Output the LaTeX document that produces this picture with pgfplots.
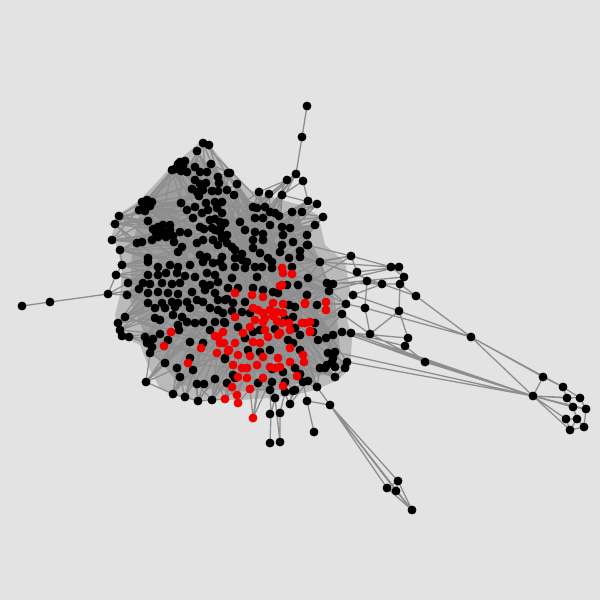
\documentclass[border=0pt]{standalone}
\usepackage{pgfplots}
\pgfplotsset{compat=1.18}
\definecolor{bg}{RGB}{227,227,227}
\definecolor{edgecol}{RGB}{142,142,142}
\definecolor{outercol}{RGB}{186,186,186}
\definecolor{corecol}{RGB}{158,158,158}
\definecolor{nodered}{RGB}{240,0,0}
\begin{document}
\begin{tikzpicture}
\begin{axis}[scale only axis, width=300pt, height=300pt,
  xmin=0, xmax=600, ymin=0, ymax=600, y dir=reverse,
  axis lines=none, xtick=\empty, ytick=\empty,
  axis background/.style={fill=bg}, clip=true]
% dense core of edges
\addplot[fill=outercol, draw=none] coordinates {
(140,200) (170,168) (200,142) (212,148) (232,172) (250,190) (275,198) (300,205)
(318,215) (325,245) (345,262) (350,290) (345,310) (352,340) (350,368) (338,380)
(315,390) (295,395) (270,398) (240,400) (210,400) (182,398) (160,388) (150,370)
(140,345) (120,335) (115,315) (120,295) (122,270) (118,250) (112,235) (118,215)} -- cycle;
\addplot[fill=corecol, draw=none] coordinates {
(140,210) (165,180) (195,158) (215,165) (235,195) (300,220) (320,260) (335,300)
(340,350) (322,375) (280,390) (230,392) (180,385) (152,352) (130,300) (132,250)} -- cycle;
% long crossing edges in the core
\addplot[edgecol, line width=0.65pt] table {
x y
145 211
320 262
203 143
300 374
152 202
335 352
180 162
290 330
142 202
345 368
197 151
308 381
139 210
326 338
209 145
283 386
150 206
317 387
172 170
333 335
147 200
270 390
185 161
313 332
144 206
327 365
195 167
300 350
119 216
320 368
211 164
295 368
115 224
258 383
178 164
335 377
153 229
303 382
183 166
318 340
};
\addplot[edgecol, line width=0.65pt] table {
x y
122 265
315 225
120 330
296 174
146 382
308 201
118 323
230 173
165 363
317 204
125 317
287 180
173 394
323 217
112 240
302 212
185 397
259 192
128 283
342 314
150 353
307 245
198 401
269 194
139 289
351 256
177 368
282 195
148 343
320 262
212 400
237 184
120 250
329 291
193 370
253 207
145 337
331 284
215 379
275 213
127 295
346 304
227 383
218 177
};
\addplot[edgecol, line width=0.65pt] table {
x y
200 227
263 290
170 265
245 338
212 228
290 228
180 283
225 358
253 248
162 303
275 329
222 257
190 308
282 245
158 267
260 352
207 273
300 257
168 293
233 375
242 260
210 330
307 295
177 273
248 350
215 293
270 212
187 322
285 319
163 232
253 332
220 262
295 307
155 318
272 369
203 262
238 327
180 232
293 343
166 273
227 299
263 240
195 323
300 335
148 293
242 312
255 218
190 342
245 302
172 284
315 323
};
\addplot[edgecol, line width=0.65pt] table {
x y
142 202
228 173
147 200
222 213
152 202
227 190
145 211
218 191
139 210
240 222
150 206
253 207
144 206
206 203
119 216
187 210
115 224
170 225
148 221
220 222
153 229
200 184
158 237
172 170
112 240
182 247
137 243
203 240
142 242
234 195
120 250
213 240
148 258
227 235
};
\addplot[edgecol, line width=0.65pt] table {
x y
235 293
305 323
223 332
326 302
229 350
283 304
238 377
310 331
250 389
273 303
225 399
302 323
242 368
305 304
253 418
282 268
247 378
292 274
237 395
280 286
263 378
326 310
171 332
304 362
164 346
297 376
188 363
290 348
201 348
278 358
};
\addplot[edgecol, line width=0.65pt] table {
x y
118 323
317 204
146 382
323 217
173 394
302 212
212 400
282 195
270 390
259 192
317 387
237 184
345 368
228 173
347 362
211 164
333 335
180 162
346 304
142 202
329 291
119 216
320 262
112 240
307 245
120 250
308 278
122 265
315 323
116 275
318 340
127 295
335 377
125 317
303 382
145 337
308 201
150 353
296 174
};
\addplot[edgecol, line width=0.65pt] table {
x y
142 202
158 227
119 216
153 229
115 224
148 221
112 240
152 240
120 250
148 258
122 265
158 267
116 275
148 275
128 283
150 284
127 295
148 293
125 317
155 308
118 323
155 318
120 330
160 334
122 336
153 339
129 337
147 343
145 337
150 353
165 363
146 382
177 368
173 394
180 377
185 397
193 370
198 401
197 384
212 400
215 379
225 399
227 383
238 403
250 389
270 390
258 383
285 382
295 390
303 382
317 387
320 368
335 377
345 368
327 365
347 362
333 358
335 352
328 353
333 335
313 332
340 332
318 340
342 314
315 323
346 304
317 305
329 291
307 295
333 284
308 278
327 283
320 262
300 257
307 245
293 242
307 235
283 235
315 225
290 228
323 217
292 212
317 204
302 212
308 201
279 216
282 195
270 212
269 194
265 207
259 192
253 207
237 184
240 222
234 195
222 202
230 173
219 183
228 173
211 164
206 183
203 143
195 167
197 151
187 172
180 162
181 203
172 170
152 202
};
% individual edges
\addplot[edgecol, line width=0.65pt, unbounded coords=jump] table {
x y
307 106
302 137
296 174
287 180
nan nan
296 174
303 181
282 195
nan nan
287 180
269 194
nan nan
296 174
275 213
nan nan
287 180
259 192
nan nan
303 181
308 201
nan nan
282 195
317 204
nan nan
22 306
50 302
108 294
116 275
122 265
148 262
nan nan
108 294
128 283
nan nan
108 294
127 295
nan nan
108 294
139 289
nan nan
142 202
181 203
nan nan
147 200
180 162
nan nan
152 202
178 164
nan nan
144 206
172 170
nan nan
145 211
187 210
nan nan
139 210
181 171
nan nan
119 216
142 202
nan nan
115 224
144 206
nan nan
119 216
148 221
nan nan
115 224
137 243
nan nan
112 240
142 242
nan nan
120 250
148 258
nan nan
120 250
122 265
nan nan
307 245
351 256
391 267
404 277
399 267
357 272
351 256
nan nan
357 272
367 281
382 284
400 284
416 296
nan nan
404 277
400 284
nan nan
367 281
365 308
370 334
399 311
408 338
405 346
425 362
370 334
nan nan
382 284
353 295
399 311
400 284
nan nan
346 304
365 308
nan nan
320 262
391 267
nan nan
320 262
351 256
nan nan
327 283
399 267
nan nan
327 283
382 284
nan nan
331 284
404 277
nan nan
342 314
370 334
nan nan
342 332
425 362
nan nan
350 333
408 338
nan nan
351 333
405 346
nan nan
320 262
416 296
nan nan
329 291
367 281
nan nan
416 296
471 337
399 311
nan nan
471 337
365 308
nan nan
471 337
543 377
nan nan
471 337
563 387
nan nan
471 337
533 396
nan nan
533 396
340 332
nan nan
533 396
335 352
nan nan
533 396
350 333
nan nan
533 396
347 362
nan nan
533 396
425 362
nan nan
533 396
543 377
563 387
567 398
573 407
586 409
580 398
563 387
nan nan
533 396
567 398
nan nan
533 396
580 398
nan nan
533 396
573 407
nan nan
533 396
566 419
577 419
584 427
570 430
566 419
nan nan
533 396
570 430
nan nan
533 396
586 409
584 427
nan nan
573 407
577 419
570 430
nan nan
330 405
398 481
387 488
396 491
412 510
398 481
396 491
nan nan
387 488
412 510
330 405
387 488
nan nan
330 405
396 491
nan nan
330 405
317 387
nan nan
307 401
314 432
nan nan
303 382
307 401
nan nan
270 443
271 414
270 390
nan nan
280 442
280 413
285 392
289 404
293 391
nan nan
280 442
275 398
271 414
nan nan
275 398
272 382
nan nan
289 404
295 390
nan nan
253 418
250 389
nan nan
253 418
258 383
nan nan
150 353
146 382
165 363
nan nan
146 382
173 394
185 397
198 401
212 400
225 399
nan nan
173 394
177 368
nan nan
185 397
193 370
nan nan
198 401
215 379
nan nan
212 400
227 383
nan nan
225 399
233 375
nan nan
307 401
330 405
nan nan
290 404
308 381
nan nan
};
% black nodes
\addplot[only marks, mark=*, mark size=2pt, mark options={draw=black, fill=black}] table {
x y
203 143
209 145
197 151
211 164
195 167
180 162
185 161
178 164
183 166
172 170
175 169
181 171
200 172
207 172
187 172
228 173
218 177
219 183
195 180
200 184
192 189
197 192
203 190
206 183
212 191
218 191
227 190
199 196
181 203
206 203
215 202
217 208
208 210
142 202
147 200
152 202
150 206
144 206
139 210
145 211
187 210
195 207
202 213
193 218
119 216
115 224
148 221
210 220
215 219
220 222
153 229
158 227
163 225
170 225
156 233
163 232
170 230
180 232
200 227
204 229
212 228
215 230
221 227
152 240
158 237
166 237
173 236
174 242
188 233
197 243
203 240
213 240
222 238
218 245
112 240
137 243
142 242
120 250
182 247
178 252
148 258
200 255
207 257
230 173
237 184
234 195
296 174
287 180
303 181
259 192
269 194
282 195
253 207
257 208
265 207
270 212
275 213
279 216
292 212
302 212
308 201
317 204
323 217
315 225
222 202
222 213
225 223
240 222
245 230
255 218
263 218
270 225
282 227
290 228
220 232
227 235
255 232
263 234
253 240
263 240
283 235
307 235
227 243
282 245
293 242
308 245
232 247
235 250
253 248
260 253
242 254
280 252
289 258
300 251
300 257
222 257
235 258
242 260
247 262
268 258
272 262
320 262
223 267
235 267
245 268
255 267
262 267
272 268
292 267
308 278
232 278
257 277
327 283
333 284
122 265
116 275
128 283
108 294
127 295
139 289
148 262
158 267
170 265
178 267
190 265
203 262
213 263
220 262
148 275
158 275
166 273
177 273
185 276
195 277
207 273
215 275
143 283
150 284
162 283
172 284
180 283
203 284
210 285
218 282
148 293
158 292
168 293
178 294
192 292
205 290
215 293
148 303
162 303
172 302
178 303
187 302
197 300
203 302
218 300
227 299
155 308
165 308
175 307
190 308
210 308
218 310
125 317
155 318
160 320
173 315
182 317
187 322
195 323
203 322
215 322
224 322
118 323
120 330
122 336
129 337
160 334
178 325
179 330
168 340
145 337
153 339
147 343
152 347
150 353
190 342
203 343
210 330
190 358
225 359
165 363
177 368
193 370
180 377
215 379
146 382
197 384
204 384
173 394
185 397
198 401
212 400
228 288
238 288
253 288
263 290
273 292
287 285
298 285
307 295
317 305
225 300
233 303
245 302
278 293
289 305
295 307
223 313
232 311
242 312
250 313
285 319
293 317
225 323
238 327
315 323
253 332
260 330
275 329
295 328
300 335
288 340
293 343
245 338
313 332
318 340
326 338
333 335
248 350
260 352
270 350
300 350
225 358
328 353
335 352
333 358
332 362
327 365
325 368
335 367
347 362
295 368
300 374
320 368
335 377
345 368
233 375
272 369
283 372
227 383
235 378
258 383
270 390
272 382
285 382
295 390
303 382
308 381
317 387
275 398
290 404
307 401
330 405
270 414
280 413
314 432
270 443
280 442
285 392
293 391
307 245
351 256
357 272
391 267
399 267
404 277
367 281
382 284
400 284
416 296
329 291
353 295
346 304
365 308
399 311
342 314
370 334
342 332
351 333
408 338
405 346
425 362
471 337
543 377
533 396
563 387
567 398
580 398
573 407
586 409
566 419
577 419
570 430
584 427
307 106
302 137
22 306
50 302
398 481
387 488
396 491
412 510
};
% red nodes
\addplot[only marks, mark=*, mark size=2pt, mark options={draw=nodered, fill=nodered}] table {
x y
282 268
283 273
292 274
280 286
171 332
164 346
215 336
218 337
223 332
220 343
224 343
201 348
217 353
228 351
188 363
225 399
235 293
282 285
252 295
263 297
326 302
326 310
273 303
283 304
305 304
253 308
258 310
270 310
277 312
283 313
263 313
235 317
255 320
265 318
273 316
277 321
302 323
250 327
263 322
282 323
289 323
310 322
243 333
265 330
280 333
290 330
310 332
235 343
253 342
260 343
268 337
278 335
229 350
290 348
238 355
250 356
263 357
278 358
290 362
304 362
303 355
233 365
242 368
247 368
257 365
270 367
275 368
280 367
238 377
247 378
263 378
297 376
232 387
250 389
283 386
237 395
238 403
253 418
305 303
305 323
310 331
};
\end{axis}
\end{tikzpicture}
\end{document}
